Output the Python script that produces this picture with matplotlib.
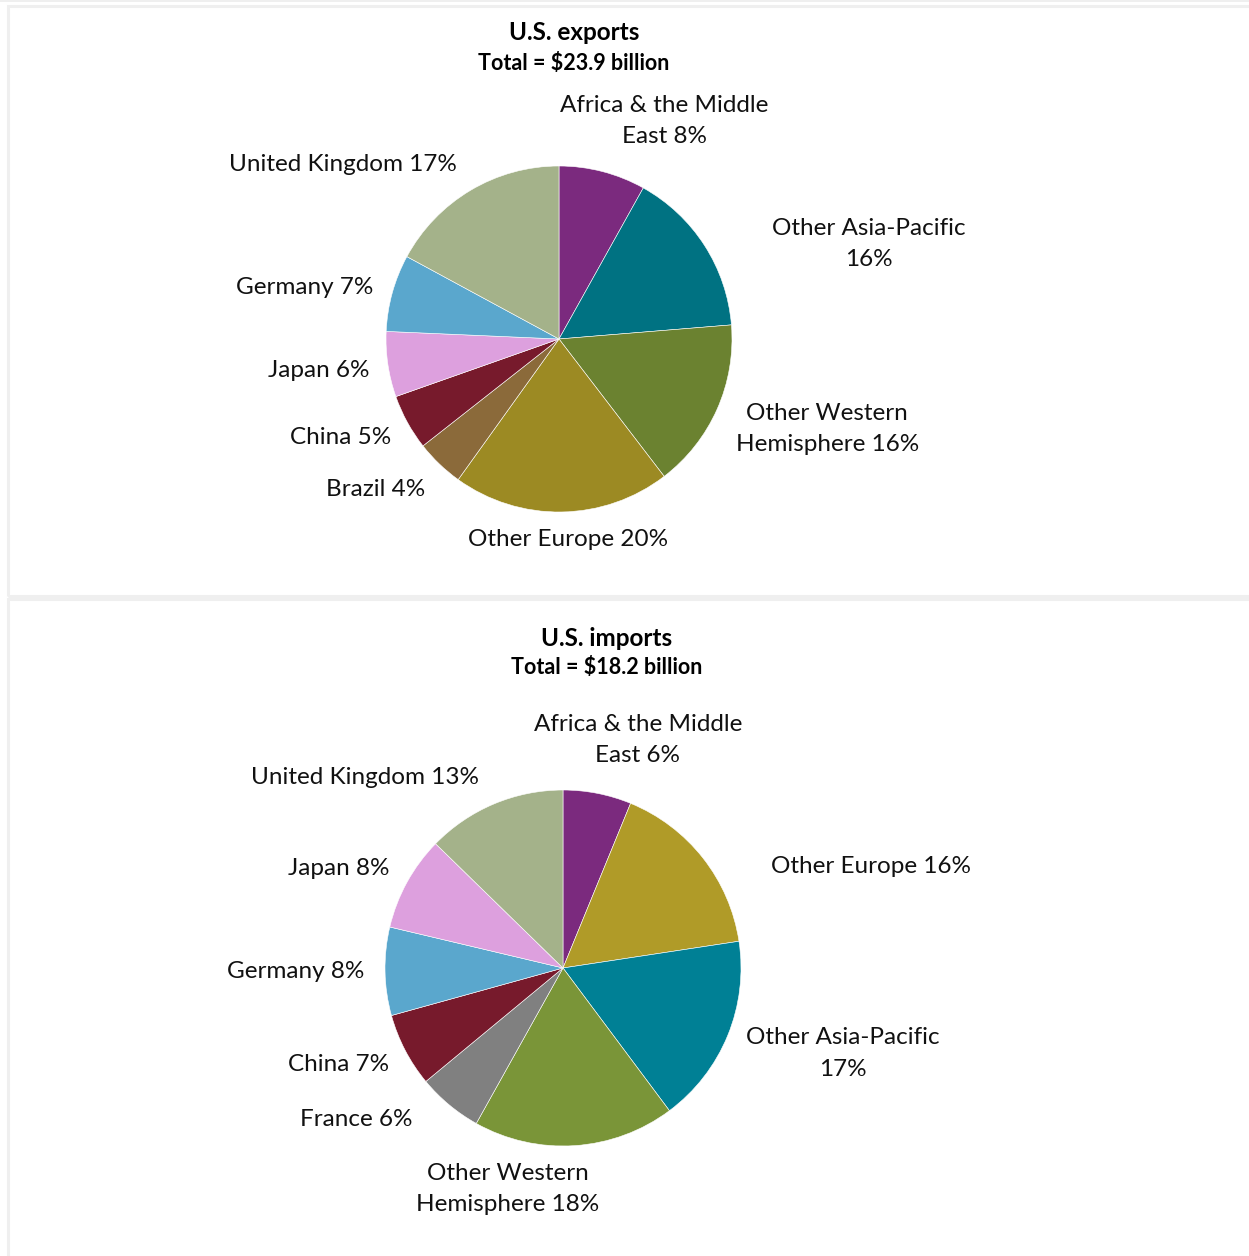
import matplotlib
matplotlib.use('Agg')
import matplotlib.pyplot as plt
from matplotlib.patches import Rectangle

plt.rcParams['font.family'] = ['Lato', 'DejaVu Sans']

# exports data (clockwise from 12 o'clock)
exp_names = ['Africa & the Middle\nEast', 'Other Asia-Pacific\n', 'Other Western\nHemisphere',
             'Other Europe', 'Brazil', 'China', 'Japan', 'Germany', 'United Kingdom']
exp_shares = [8.1, 15.6, 15.9, 20.3, 4.5, 5.2, 6.1, 7.2, 17.1]
exp_pct = [8, 16, 16, 20, 4, 5, 6, 7, 17]
exp_colors = ['#7B2A7E', '#007282', '#6B8230', '#9C8A23', '#8B6A3A',
              '#771A2C', '#DDA0DE', '#5AA7CD', '#A4B28A']

# imports data
imp_names = ['Africa & the Middle\nEast', 'Other Europe', 'Other Asia-Pacific\n',
             'Other Western\nHemisphere', 'France', 'China', 'Germany', 'Japan', 'United Kingdom']
imp_shares = [6.2, 16.4, 17.2, 18.3, 5.9, 6.7, 8.0, 8.6, 12.7]
imp_pct = [6, 16, 17, 18, 6, 7, 8, 8, 13]
imp_colors = ['#7B2A7E', '#B09B28', '#008095', '#7A9538', '#808080',
              '#771A2C', '#5AA7CD', '#DDA0DE', '#A4B28A']

# label offsets in pie-radius units
exp_lab_xy = [(0.61, 1.26), (1.79, 0.55), (1.55, -0.52), (0.05, -1.16), (-1.06, -0.87),
              (-1.26, -0.57), (-1.39, -0.18), (-1.47, 0.30), (-1.25, 1.01)]
imp_lab_xy = [(0.42, 1.28), (1.73, 0.57), (1.57, -0.48), (-0.31, -1.24), (-1.16, -0.85),
              (-1.26, -0.54), (-1.50, -0.02), (-1.26, 0.56), (-1.11, 1.07)]

W, H = 1249, 1256
fig = plt.figure(figsize=(W / 100, H / 100), dpi=100)

# panel borders
for y0, y1 in [(6, 596), (599, 1262)]:
    fig.patches.append(Rectangle((8 / W, 1 - y1 / H), (W - 6) / W, (y1 - y0) / H,
                                 transform=fig.transFigure, fill=False,
                                 edgecolor='#efefef', lw=2.2))
fig.patches.append(Rectangle((0, 1 - 2 / H), 1, 2 / H, transform=fig.transFigure,
                             facecolor='#efefef', edgecolor='none'))


def draw_pie(cx, cy, r, shares, colors, names, pct, lab_xy, title, total, tx, ty):
    half = 260
    ax = fig.add_axes([(cx - half) / W, 1 - (cy + half) / H, 2 * half / W, 2 * half / H])
    ax.pie(shares, colors=colors, startangle=90, counterclock=False, radius=1,
           wedgeprops=dict(edgecolor='white', linewidth=0.4))
    lim = half / r
    ax.set_xlim(-lim, lim)
    ax.set_ylim(-lim, lim)
    ax.axis('off')
    for name, p, (lx, ly) in zip(names, pct, lab_xy):
        if name.endswith('\n'):
            txt = name + '%d%%' % p
        else:
            txt = name + ' %d%%' % p
        ax.text(lx, ly, txt, ha='center', va='center', fontsize=17.5,
                color='#111111', linespacing=1.6)
    fig.text(tx / W, 1 - ty / H, title, ha='center', va='center',
             fontsize=17.5, fontweight='bold')
    fig.text(tx / W, 1 - (ty + 30) / H, total, ha='center', va='center',
             fontsize=15.5, fontweight='bold')


draw_pie(559, 339, 173, exp_shares, exp_colors, exp_names, exp_pct, exp_lab_xy,
         'U.S. exports', 'Total = $23.9 billion', 574, 33)
draw_pie(563, 968, 178, imp_shares, imp_colors, imp_names, imp_pct, imp_lab_xy,
         'U.S. imports', 'Total = $18.2 billion', 607, 638)

fig.savefig('out.png', dpi=100)
